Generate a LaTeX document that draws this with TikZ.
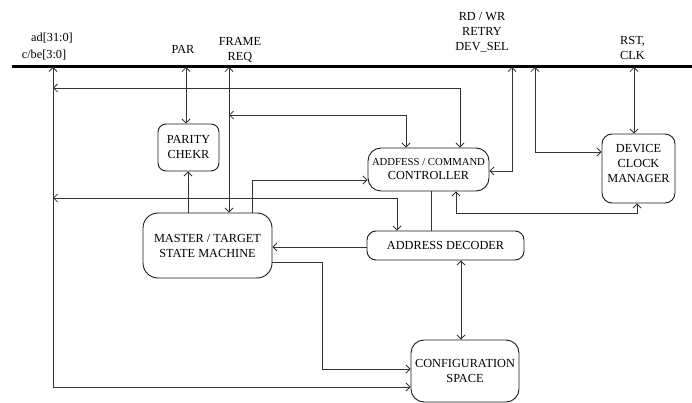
\documentclass[tikz,border=0pt]{standalone}
\usepackage{fontspec}
\setmainfont{Liberation Serif}
\usetikzlibrary{arrows.meta}
\newcommand{\accsmall}{\fontsize{10.7}{13}\selectfont}
\begin{document}
\begin{tikzpicture}[x=1pt,y=-1pt,
  every node/.style={font=\fontsize{12.3}{15}\selectfont, align=center, inner sep=0pt, text=black},
  box/.style={draw=black!90, line width=0.9pt, rounded corners=#1},
  box/.default=10pt,
  wire/.style={draw=black!80, line width=0.8pt},
  onearr/.style={wire, -{Straight Barb[length=4pt,width=8pt]}},
  dblarr/.style={wire, {Straight Barb[length=4pt,width=8pt]}-{Straight Barb[length=4pt,width=8pt]}},
  plain/.style={wire},
  busline/.style={draw=black, line width=3pt}]
\useasboundingbox (0,0) rectangle (692,403);

% bus
\coordinate (busL) at (12,67);
\coordinate (busR) at (692,67);
\draw[busline] (busL) -- (busR);
\coordinate (tapAD) at (53,67);
\coordinate (tapPAR) at (186,67);
\coordinate (tapFR) at (229,67);
\coordinate (tapRD) at (512,67);
\coordinate (tapRT) at (535,67);
\coordinate (tapCLK) at (634,67);

% bus labels
\node (lad) at (52,38) {ad[31:0]};
\node (lcbe) at (44,55) {c/be[3:0]};
\node (lpar) at (183,49.5) {PAR};
\node (lfr) at (240,49.5) {FRAME\\REQ};
\node (lrd) at (482,32.5) {RD / WR\\RETRY\\DEV\_SEL};
\node[anchor=west, align=left] (lrst) at (620,47.5) {RST,\\CLK};

% blocks
\node[box=8pt, minimum width=61pt, minimum height=47pt] (PAR) at (188.5,147.5) {PARITY\\CHEKR};
\node[box=15pt, minimum width=129pt, minimum height=65pt] (MST) at (207.5,245.5) {MASTER / TARGET\\STATE MACHINE};
\node[box=13pt, minimum width=121pt, minimum height=43pt] (ACC) at (428.5,169.5) {{\accsmall ADDFESS / COMMAND}\\[-1pt]CONTROLLER};
\node[box=9pt, minimum width=157pt, minimum height=29pt] (DEC) at (445.5,245.5) {ADDRESS DECODER};
\node[box=10pt, minimum width=73pt, minimum height=69pt] (DCM) at (638.5,168.5) {};
\node (DCMt) at (638.5,163) {DEVICE\\CLOCK\\MANAGER};
\node[box=13pt, minimum width=108pt, minimum height=62pt] (CFG) at (465,371) {CONFIGURATION\\SPACE};

% connectors
\draw[dblarr] (CFG.west |- 0,387) -| (tapAD);
\draw[dblarr] (ACC.north -| 460,0) |- (53,88);
\draw[dblarr] (tapFR) -- (MST.north -| 229,0);
\draw[dblarr] (ACC.north -| 406,0) |- (229,115);
\draw[dblarr] (tapPAR) -- (PAR.north -| 186,0);
\draw[onearr] (MST.north -| 188,0) -- (PAR.south -| 188,0);
\draw[dblarr] (DEC.north -| 397,0) |- (53,198);
\draw[onearr] (MST.north -| 252,0) |- (ACC.west |- 0,180);
\draw[dblarr] (ACC.east |- 0,171) -| (tapRD);
\draw[dblarr] (tapRT) |- (DCM.west |- 0,152);
\draw[dblarr] (tapCLK) -- (DCM.north -| 634,0);
\draw[dblarr] (DCM.south -| 637,0) |- (456,213) -- (ACC.south -| 456,0);
\draw[plain] (ACC.south -| 431,0) -- (DEC.north -| 431,0);
\draw[onearr] (DEC.west |- 0,247) -- (MST.east |- 0,247);
\draw[dblarr] (DEC.south -| 461,0) -- (CFG.north -| 461,0);
\draw[onearr] (MST.east |- 0,262) -| (322,369) -- (CFG.west |- 0,369);
\end{tikzpicture}
\end{document}
